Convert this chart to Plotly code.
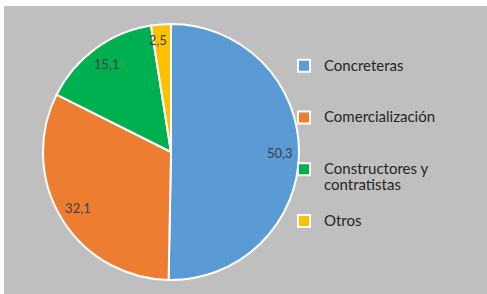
import plotly.graph_objects as go

categories = ["Concreteras", "Comercialización", "Constructores y<br>contratistas", "Otros"]
values = [50.3, 32.1, 15.1, 2.5]
colors = ["#5B9BD5", "#ED7D31", "#00B050", "#FFC000"]

W, H = 487, 294
CX, CY, R = 171, 152, 128


def dom(r):
    return dict(x=[(CX - r) / W, (CX + r) / W], y=[1 - (CY + r) / H, 1 - (CY - r) / H])


# legend labels padded to three lines so entries are spaced like the reference
legend_labels = []
for c in categories:
    n = c.count("<br>") + 1
    legend_labels.append("<span style='font-size:15px'>" + c + "</span>" + "<br>&nbsp;" * (3 - n))

fig = go.Figure()
# base pie with slices and legend
fig.add_trace(go.Pie(
    labels=legend_labels, values=values, sort=False, direction="clockwise", rotation=0,
    marker=dict(colors=colors, line=dict(color="white", width=2)),
    textinfo="none", domain=dom(R), showlegend=True,
    hovertemplate="%{value:.1f}<extra></extra>",
))
# transparent ring carrying the large data labels near the outer edge
fig.add_trace(go.Pie(
    labels=legend_labels, values=values, sort=False, direction="clockwise", rotation=0,
    hole=0.7,
    marker=dict(colors=["rgba(0,0,0,0)"] * 4, line=dict(width=0)),
    texttemplate="%{value:.1f}", textposition=["inside", "inside", "inside", "none"],
    insidetextorientation="horizontal",
    textfont=dict(family="Lato", size=13, color="#404040"),
    domain=dom(R), showlegend=False, hoverinfo="skip",
))
# smaller transparent pie so the small-slice label sits unscaled above its slice
fig.add_trace(go.Pie(
    labels=legend_labels, values=values, sort=False, direction="clockwise", rotation=4.4,
    marker=dict(colors=["rgba(0,0,0,0)"] * 4, line=dict(width=0)),
    texttemplate="%{value:.1f}", textposition=["none", "none", "none", "outside"],
    textfont=dict(family="Lato", size=13, color="#404040"),
    domain=dom(104), showlegend=False, hoverinfo="skip",
))

fig.update_layout(
    width=W, height=H,
    margin=dict(l=0, r=0, t=0, b=0),
    paper_bgcolor="white", plot_bgcolor="rgba(0,0,0,0)",
    separators=",.",
    shapes=[dict(type="rect", xref="paper", yref="paper", x0=4 / W, x1=1, y0=0, y1=1 - 6 / H,
                 fillcolor="#BFBFBF", line=dict(width=0), layer="below")],
    legend=dict(x=284 / W, y=1 - 51 / H, xanchor="left", yanchor="top",
                font=dict(family="Lato", size=12.5, color="#262626"),
                bgcolor="rgba(0,0,0,0)", valign="top"),
)

fig.write_html("out.html", config={"displayModeBar": False},
               post_script="document.body.style.margin='0';")
